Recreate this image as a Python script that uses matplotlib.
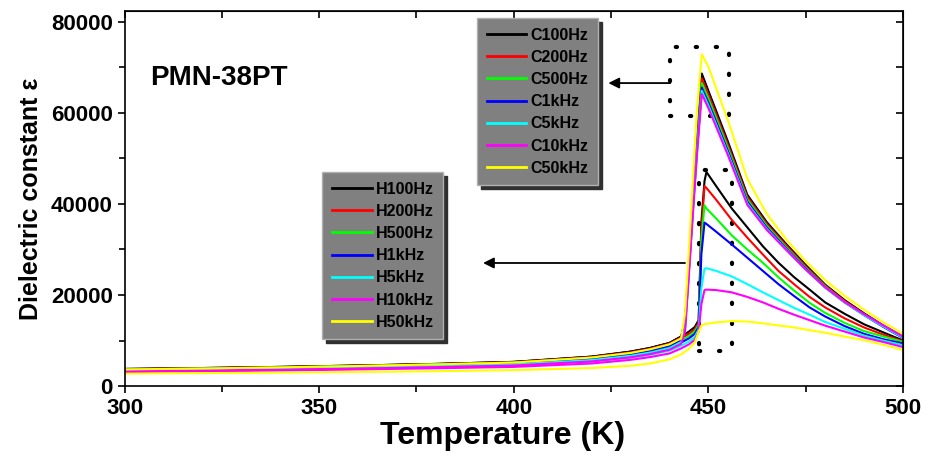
import matplotlib
matplotlib.use("Agg")
import matplotlib.pyplot as plt
from matplotlib.patches import Rectangle

plt.rcParams['font.family'] = ['Liberation Sans', 'DejaVu Sans']
plt.rcParams['font.weight'] = 'bold'

# cooling curves (C) and heating curves (H)
T_c = [300, 320, 340, 360, 380, 400, 420, 430, 435, 440, 443, 444, 445, 446, 447,
       448.3, 450, 452, 455, 460, 465, 470, 475, 480, 485, 490, 495, 500]
c100 = [3800, 4000, 4250, 4550, 4900, 5350, 6500, 7600, 8400, 9500, 10900, 14500, 27000, 40000, 52500,
        68600, 64800, 60400, 53700, 42000, 36000, 31200, 26600, 22300, 18900, 16000, 13300, 10900]
c200 = [3750, 3950, 4200, 4500, 4850, 5300, 6400, 7450, 8250, 9350, 10700, 14000, 26500, 39500, 52000,
        67500, 64000, 59600, 53000, 41500, 35600, 30900, 26300, 22100, 18700, 15800, 13200, 10800]
c500 = [3700, 3900, 4150, 4450, 4800, 5200, 6250, 7250, 8050, 9100, 10400, 13500, 26000, 39000, 51500,
        66500, 63100, 58800, 52300, 41000, 35200, 30500, 26000, 21900, 18500, 15700, 13100, 10700]
c1k = [3600, 3800, 4050, 4300, 4650, 5050, 6050, 7000, 7750, 8800, 10100, 13000, 25500, 38500, 51000,
       65500, 62200, 58000, 51600, 40500, 34800, 30200, 25800, 21700, 18400, 15600, 13000, 10600]
c5k = [3450, 3650, 3850, 4100, 4450, 4800, 5750, 6700, 7400, 8400, 9700, 12500, 25000, 38000, 50500,
       64800, 61600, 57400, 51100, 40100, 34500, 30000, 25600, 21600, 18400, 15600, 13100, 10700]
c10k = [3300, 3450, 3650, 3900, 4200, 4550, 5450, 6350, 7050, 8000, 9300, 12000, 24500, 37500, 50000,
        64100, 61000, 56900, 50700, 39800, 34300, 29900, 25600, 21700, 18500, 15800, 13300, 10900]
c50k = [3700, 3900, 4150, 4450, 4800, 5200, 6300, 7300, 8100, 9200, 10500, 16000, 30000, 45000, 60000,
        72800, 70100, 65400, 58400, 45500, 37800, 32200, 27400, 23300, 19800, 16800, 14000, 11500]

T_h = [300, 320, 340, 360, 380, 400, 420, 430, 435, 440, 443, 445, 446.5, 447.5, 448.2,
       449, 449.5, 452, 456, 460, 464, 468, 472, 476, 480, 485, 490, 495, 500]
h100 = [3800, 4000, 4250, 4550, 4900, 5350, 6500, 7600, 8400, 9500, 10900, 12000, 13000, 14500, 36000,
        45000, 47000, 43900, 39000, 34850, 30700, 27100, 23950, 21200, 18400, 15900, 13600, 11800, 10050]
h200 = [3700, 3900, 4150, 4450, 4800, 5200, 6300, 7350, 8150, 9200, 10500, 11500, 12500, 14000, 34000,
        43900, 43500, 40900, 36500, 32600, 28900, 25300, 22400, 19600, 17300, 14900, 12900, 11300, 9900]
h500 = [3600, 3800, 4050, 4350, 4650, 5050, 6100, 7100, 7850, 8850, 10100, 11000, 12000, 13500, 32000,
        39700, 39000, 36800, 33100, 30000, 27100, 23900, 21000, 18300, 16100, 13900, 12100, 10900, 9750]
h1k = [3500, 3700, 3900, 4200, 4500, 4850, 5800, 6750, 7450, 8400, 9600, 10500, 11500, 13000, 29000,
       35900, 35600, 33900, 31100, 28200, 25300, 22400, 19800, 17300, 15300, 13200, 11500, 10300, 9400]
h5k = [3300, 3500, 3700, 3950, 4250, 4550, 5400, 6250, 6900, 7800, 8900, 9800, 10800, 12500, 21500,
       25800, 25900, 25300, 24100, 22400, 20600, 18900, 17200, 15700, 14100, 12600, 11100, 10000, 9000]
h10k = [3100, 3250, 3450, 3700, 3950, 4250, 5000, 5800, 6400, 7200, 8300, 9200, 10200, 12000, 18000,
        21100, 21200, 21100, 20600, 19600, 18400, 17000, 15700, 14500, 13300, 12000, 10700, 9700, 8600]
h50k = [2800, 2900, 3000, 3150, 3300, 3550, 4000, 4500, 5000, 5900, 7000, 8200, 9600, 12000, 13300,
        13600, 13700, 14000, 14300, 14200, 13800, 13350, 12900, 12300, 11750, 10900, 10100, 9100, 7950]

colors = ['black', '#ff0000', '#00ff00', '#0000ff', '#00ffff', '#ff00ff', '#ffff00']
c_labels = ['C100Hz', 'C200Hz', 'C500Hz', 'C1kHz', 'C5kHz', 'C10kHz', 'C50kHz']
h_labels = ['H100Hz', 'H200Hz', 'H500Hz', 'H1kHz', 'H5kHz', 'H10kHz', 'H50kHz']
c_data = [c100, c200, c500, c1k, c5k, c10k, c50k]
h_data = [h100, h200, h500, h1k, h5k, h10k, h50k]

fig = plt.figure(figsize=(9.25, 4.63), dpi=100)
ax = fig.add_axes([0.1347, 0.1657, 0.8415, 0.8105])

c_lines = []
h_lines = []
for y, col, lab in zip(h_data, colors, h_labels):
    ln, = ax.plot(T_h, y, color=col, lw=1.5, label=lab)
    h_lines.append(ln)
for y, col, lab in zip(c_data, colors, c_labels):
    ln, = ax.plot(T_c, y, color=col, lw=1.5, label=lab)
    c_lines.append(ln)

ax.set_xlim(300, 500)
ax.set_ylim(0, 82300)
ax.set_xticks([300, 350, 400, 450, 500])
ax.set_xticks([325, 375, 425, 475], minor=True)
ax.set_yticks([0, 20000, 40000, 60000, 80000])
ax.set_yticks([10000, 30000, 50000, 70000], minor=True)
ax.tick_params(which='both', direction='out', labelsize=16, width=1.2)
ax.tick_params(which='major', length=5)
ax.tick_params(which='minor', length=4)
for s in ax.spines.values():
    s.set_linewidth(1.2)

top = ax.secondary_xaxis('top')
top.set_xticks([300, 350, 400, 450, 500])
top.set_xticks([325, 375, 425, 475], minor=True)
top.tick_params(which='both', direction='in', labeltop=False, width=1.2, length=5)
right = ax.secondary_yaxis('right')
right.set_yticks([0, 20000, 40000, 60000, 80000])
right.set_yticks([10000, 30000, 50000, 70000], minor=True)
right.tick_params(which='both', direction='in', labelright=False, width=1.2, length=5)

ax.set_xlabel('Temperature (K)', fontsize=23, fontweight='bold')
ax.xaxis.set_label_coords(0.486, -0.093)
ax.set_ylabel('Dielectric constant ε', fontsize=18, fontweight='bold', labelpad=6)

ax.text(306.5, 66000, 'PMN-38PT', fontsize=20, fontweight='bold')

# dotted boxes around the peaks
ax.add_patch(Rectangle((440.2, 59200), 15.2, 15300, fill=False, lw=3,
                       linestyle=(0, (0.3, 4.5)), capstyle='round', edgecolor='black'))
ax.add_patch(Rectangle((447.7, 7830), 8.3, 39670, fill=False, lw=3,
                       linestyle=(0, (0.3, 4.5)), capstyle='round', edgecolor='black'))

arrow = dict(arrowstyle='-|>', color='black', lw=1.3, mutation_scale=16, shrinkA=0, shrinkB=0)
ax.annotate('', xy=(424.3, 66500), xytext=(440.2, 66500), arrowprops=arrow)
ax.annotate('', xy=(392.1, 27040), xytext=(444.0, 27040), arrowprops=arrow)

leg_kw = dict(loc='upper left', borderaxespad=0, fancybox=False, framealpha=1,
              facecolor='#808080', edgecolor='#b0b0b0',
              handlelength=2.5, handletextpad=0.25, borderpad=0.6, labelspacing=0.45,
              shadow={'ox': 3, 'oy': -3, 'color': '#303030', 'alpha': 1},
              prop={'weight': 'bold', 'size': 11.5})
leg1 = ax.legend(handles=c_lines, bbox_to_anchor=(0.4527, 0.9813), **leg_kw)
for h in leg1.get_lines():
    h.set_linewidth(2)
ax.add_artist(leg1)
leg2 = ax.legend(handles=h_lines, bbox_to_anchor=(0.2536, 0.571), **leg_kw)
for h in leg2.get_lines():
    h.set_linewidth(2)

fig.savefig('out.png', dpi=100)
